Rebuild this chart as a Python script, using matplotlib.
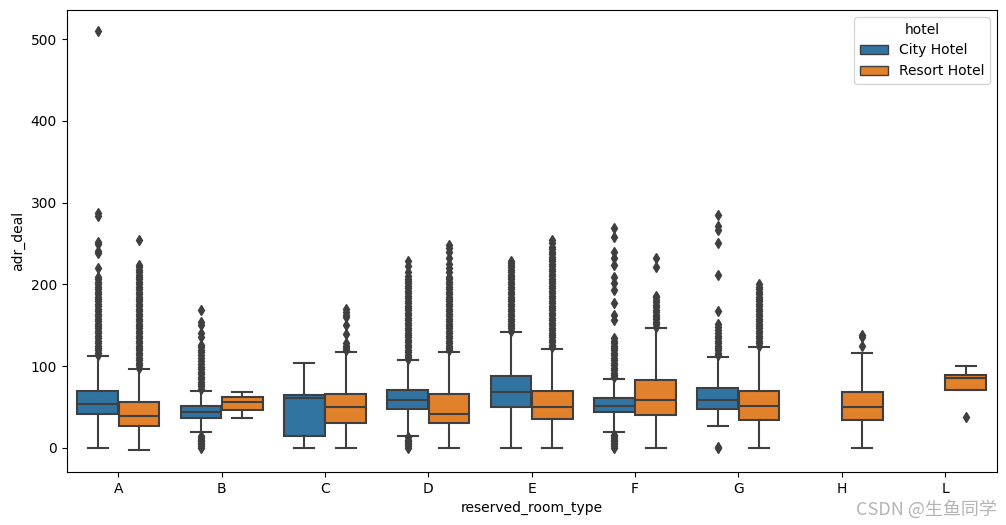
"""
Boxplot of adr_deal by reserved_room_type, split by hotel type.
Box statistics and outliers were read off the reference picture.
"""

import matplotlib
matplotlib.use("Agg")
import matplotlib.pyplot as plt
from matplotlib.patches import Patch

# Categories and hue levels
room_types = ["A", "B", "C", "D", "E", "F", "G", "H", "L"]
hotels = ["City Hotel", "Resort Hotel"]
hotel_colors = {"City Hotel": "#3274a1", "Resort Hotel": "#e1812c"}

# Box stats per (room_type, hotel): whislo, q1, med, q3, whishi
city_stats = {
    "A": [0, 41.6, 53, 70, 112.8],
    "B": [18.7, 36.7, 43.2, 50.5, 70],
    "C": [0, 13.8, 60.3, 64.8, 104.3],
    "D": [13.8, 47.7, 57.9, 70.9, 106.8],
    "E": [0, 50.1, 67.6, 87.2, 142.2],
    "F": [19.6, 44, 50.5, 60.3, 84.4],
    "G": [26, 47.7, 59, 73.3, 111.6],
}
resort_stats = {
    "A": [-3.3, 26, 38.3, 55.4, 96.6],
    "B": [35.8, 45.6, 55.4, 61.5, 67.6],
    "C": [0, 30.6, 49.7, 66, 117],
    "D": [0, 30.6, 41.6, 66, 117.7],
    "E": [0, 35.5, 49.7, 70, 121.4],
    "F": [0, 39.5, 57.9, 83.1, 147],
    "G": [0, 34.2, 50.5, 70, 123.8],
    "H": [0, 34.2, 49.7, 68.5, 115.8],
    "L": [70.9, 70.9, 85.6, 89.6, 100.6],
}

# Outliers
city_fliers = {
    "A": [113, 116, 119, 122, 125, 128, 131, 134, 137, 140, 143, 146, 149, 152,
          155, 158, 161, 164, 167, 170, 173, 176, 179, 182, 185, 188, 191, 194,
          197, 200, 203, 206, 209, 220, 238, 241, 249, 252, 284, 287, 510],
    "B": [0, 2, 4, 6, 8, 10, 12, 14,
          72, 75, 78, 81, 84, 87, 90, 93, 96, 99, 103, 106, 110, 113, 117, 120,
          123, 126, 136, 140, 150, 154, 168],
    "C": [],
    "D": [0, 2, 4, 6, 8, 10, 13,
          108, 111, 114, 117, 120, 123, 126, 129, 132, 135, 138, 141, 144, 147,
          150, 153, 156, 159, 162, 165, 168, 171, 174, 177, 180, 183, 186, 189,
          192, 195, 198, 201, 204, 207, 210, 215, 222, 229],
    "E": [143, 146, 149, 152, 155, 158, 161, 164, 167, 170, 173, 176, 179, 182,
          185, 188, 191, 194, 197, 200, 203, 206, 209, 212, 215, 218, 221, 224,
          226, 229],
    "F": [0, 2, 4, 6, 8, 10, 12, 14, 16,
          86, 89, 92, 95, 98, 101, 104, 107, 110, 113, 116, 119, 122, 125, 128,
          131, 134, 156, 162, 177, 193, 201, 209, 224, 232, 240, 258, 269],
    "G": [0, 1,
          113, 116, 119, 122, 125, 128, 131, 134, 137, 140, 144, 148, 152, 167,
          211, 250, 267, 271, 285],
}
resort_fliers = {
    "A": [98, 101, 104, 107, 110, 113, 116, 119, 122, 125, 128, 131, 134, 137,
          140, 143, 146, 149, 152, 155, 158, 161, 164, 167, 170, 173, 176, 179,
          182, 185, 188, 191, 194, 197, 200, 203, 206, 209, 212, 215, 218, 221,
          224, 254],
    "B": [],
    "C": [119, 122, 125, 128, 139, 150, 160, 163, 166, 170],
    "D": [119, 122, 125, 128, 131, 134, 137, 140, 143, 146, 149, 152, 155, 158,
          161, 164, 167, 170, 173, 176, 179, 182, 185, 188, 191, 194, 197, 200,
          203, 206, 209, 215, 220, 225, 232, 240, 245, 248],
    "E": [123, 126, 129, 132, 135, 138, 141, 144, 147, 150, 153, 156, 159, 162,
          165, 168, 171, 174, 177, 180, 183, 186, 189, 192, 195, 198, 201, 204,
          207, 210, 213, 216, 219, 222, 225, 228, 231, 234, 237, 240, 243, 246,
          250, 254],
    "F": [148, 151, 154, 157, 160, 163, 166, 169, 172, 175, 178, 181, 184, 186,
          221, 232],
    "G": [125, 128, 131, 134, 137, 140, 143, 146, 149, 152, 155, 158, 161, 164,
          167, 170, 173, 176, 179, 182, 185, 188, 191, 194, 197, 200],
    "H": [124, 135, 138],
    "L": [38],
}

LINE_COLOR = "#3f3f3f"
BOX_WIDTH = 0.392
OFFSET = 0.2


def make_stats(values, fliers):
    whislo, q1, med, q3, whishi = values
    return dict(whislo=whislo, q1=q1, med=med, q3=q3, whishi=whishi,
                fliers=fliers)


def draw_hotel(ax, stats, fliers, offset, color):
    keys = [k for k in room_types if k in stats]
    positions = [room_types.index(k) + offset for k in keys]
    boxes = [make_stats(stats[k], fliers.get(k, [])) for k in keys]
    ax.bxp(boxes, positions=positions, widths=BOX_WIDTH,
           capwidths=BOX_WIDTH / 2, patch_artist=True, manage_ticks=False,
           boxprops=dict(facecolor=color, edgecolor=LINE_COLOR, linewidth=1.5),
           medianprops=dict(color=LINE_COLOR, linewidth=1.5),
           whiskerprops=dict(color=LINE_COLOR, linewidth=1.5),
           capprops=dict(color=LINE_COLOR, linewidth=1.5),
           flierprops=dict(marker="d", markersize=5,
                           markerfacecolor=LINE_COLOR,
                           markeredgecolor=LINE_COLOR))


fig = plt.figure(figsize=(10.06, 5.25), dpi=100)
ax = fig.add_axes([66.7 / 1006, 53 / 525, 930 / 1006, 462 / 525])

draw_hotel(ax, city_stats, city_fliers, -OFFSET, hotel_colors["City Hotel"])
draw_hotel(ax, resort_stats, resort_fliers, OFFSET, hotel_colors["Resort Hotel"])

ax.set_xlim(-0.5, len(room_types) - 0.5)
ax.set_ylim(-29.7, 535.7)
ax.set_xticks(range(len(room_types)))
ax.set_xticklabels(room_types)
ax.set_yticks([0, 100, 200, 300, 400, 500])
ax.set_xlabel("reserved_room_type")
ax.set_ylabel("adr_deal")

handles = [Patch(facecolor=hotel_colors[h], edgecolor=LINE_COLOR, label=h)
           for h in hotels]
ax.legend(handles=handles, title="hotel", loc="upper right")

# watermark
fig.text(0.991, 0.0295, "CSDN @生鱼同学", ha="right", va="center",
         fontsize=13, color="#b4b4b4",
         family=["Noto Sans CJK SC", "DejaVu Sans"])

fig.savefig("out.png", dpi=100, facecolor="white")
